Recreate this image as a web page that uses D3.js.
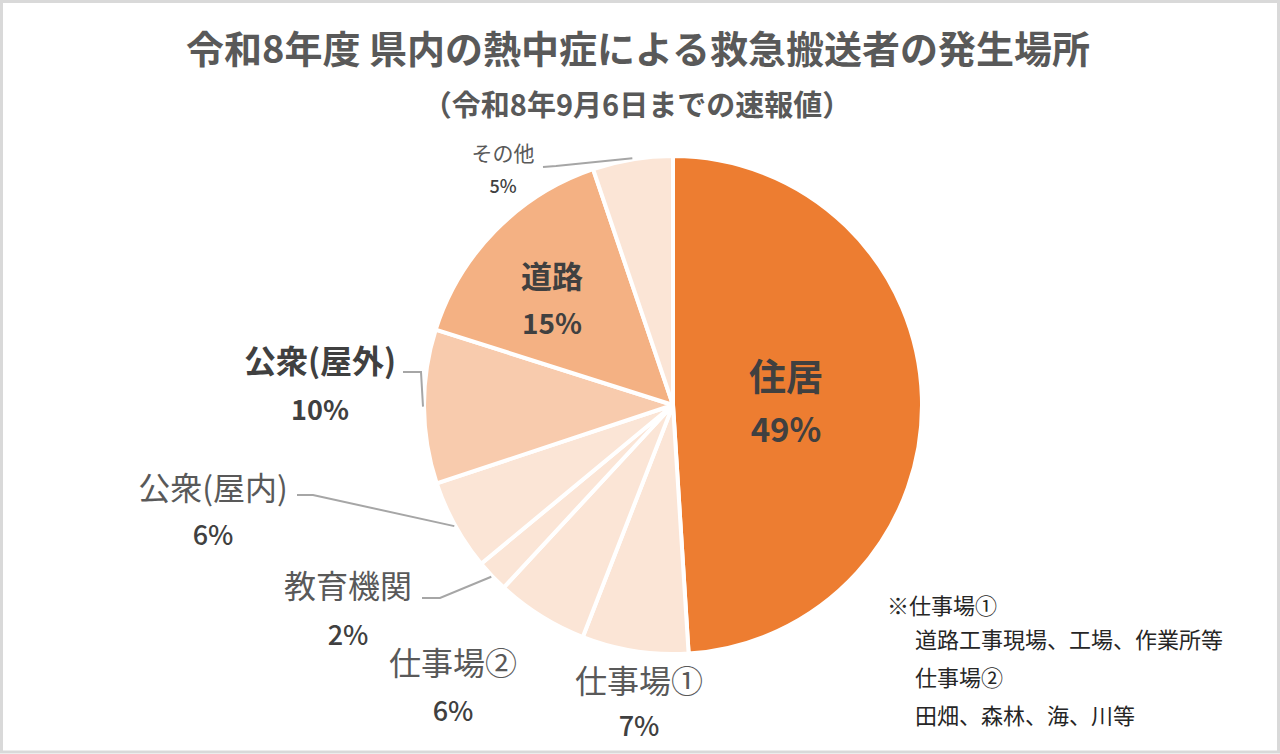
<!DOCTYPE html>
<html>
<head>
<meta charset="utf-8">
<script src="https://cdn.jsdelivr.net/npm/d3@7"></script>
<style>
  html, body { margin: 0; padding: 0; background: #fff; }
  svg { display: block; font-family: "Noto Sans CJK JP", "Noto Sans", sans-serif; }
</style>
</head>
<body>
<svg id="chart"></svg>
<script>
// Data (share in %, read clockwise from 12 o'clock)
const categories = ["住居", "仕事場①", "仕事場②", "教育機関", "公衆(屋内)", "公衆(屋外)", "道路", "その他"];
const shares = [49.0, 6.9, 6.0, 2.1, 5.9, 10.0, 14.9, 5.2];
const noteLines = ["※仕事場①", "道路工事現場、工場、作業所等", "仕事場②", "田畑、森林、海、川等"];
const title = "令和8年度 県内の熱中症による救急搬送者の発生場所";
const subtitle = "（令和8年9月6日までの速報値）";

const width = 1280;
const height = 754;
const cx = 673;
const cy = 405;
const radius = 249;

const colors = ["#ED7D31", "#FBE5D6", "#FBE5D6", "#FBE5D6", "#FBE5D6", "#F8CBAD", "#F4B183", "#FBE5D6"];

// label layout: centre x, baseline of name / percent, sizes, weight, leader start
const labelLayout = [
  { x: 786, y1: 391, y2: 442, s1: 37, s2: 33, bold: true },
  { x: 639, y1: 693, y2: 736, s1: 32, s2: 27, bold: false },
  { x: 453, y1: 675, y2: 721, s1: 32, s2: 27, bold: false },
  { x: 348, y1: 598, y2: 645, s1: 32, s2: 27, bold: false, leader: [[422, 598], [440, 598]] },
  { x: 213, y1: 500, y2: 545, s1: 32, s2: 27, bold: false, leader: [[297, 495], [313, 495]] },
  { x: 320, y1: 373, y2: 420, s1: 32, s2: 27, bold: true, leader: [[403, 372], [421, 372]] },
  { x: 552, y1: 288, y2: 334, s1: 31, s2: 28, bold: true },
  { x: 503, y1: 161, y2: 193, s1: 21, s2: 18, bold: false, leader: [[543, 167], [556, 166]] }
];

const svg = d3.select("#chart")
  .attr("width", width)
  .attr("height", height);

// frame
svg.append("rect")
  .attr("x", 1.5)
  .attr("y", 1.5)
  .attr("width", width - 3)
  .attr("height", height - 3.5)
  .attr("fill", "#fff")
  .attr("stroke", "#d9d9d9")
  .attr("stroke-width", 3);

// titles
svg.append("text")
  .attr("x", 638)
  .attr("y", 63)
  .attr("text-anchor", "middle")
  .attr("font-size", 38)
  .attr("font-weight", "bold")
  .attr("fill", "#595959")
  .text(title);

svg.append("text")
  .attr("x", 637)
  .attr("y", 116)
  .attr("text-anchor", "middle")
  .attr("font-size", 29)
  .attr("font-weight", "bold")
  .attr("fill", "#595959")
  .text(subtitle);

const data = categories.map((c, i) => ({ name: c, value: shares[i], i }));

const pie = d3.pie()
  .sort(null)
  .value(d => d.value);

const arcs = pie(data);

const arc = d3.arc()
  .innerRadius(0)
  .outerRadius(radius);

const rimArc = d3.arc()
  .innerRadius(radius + 1)
  .outerRadius(radius + 1);

const g = svg.append("g")
  .attr("transform", `translate(${cx},${cy})`);

g.selectAll("path.slice")
  .data(arcs)
  .join("path")
  .attr("class", "slice")
  .attr("d", arc)
  .attr("fill", d => colors[d.data.i])
  .attr("stroke", "#fff")
  .attr("stroke-width", 4)
  .attr("stroke-linejoin", "round");

// leader lines
arcs.forEach(d => {
  const lay = labelLayout[d.data.i];
  if (!lay.leader) return;
  const [ex, ey] = rimArc.centroid(d);
  const pts = lay.leader.concat([[cx + ex, cy + ey]]);
  svg.append("path")
    .attr("d", d3.line()(pts))
    .attr("fill", "none")
    .attr("stroke", "#a6a6a6")
    .attr("stroke-width", 2);
});

// labels
arcs.forEach(d => {
  const lay = labelLayout[d.data.i];
  const pct = Math.round(d.data.value) + "%";
  svg.append("text")
    .attr("x", lay.x)
    .attr("y", lay.y1)
    .attr("text-anchor", "middle")
    .attr("font-size", lay.s1)
    .attr("font-weight", lay.bold ? "bold" : "normal")
    .attr("fill", lay.bold ? "#404040" : "#595959")
    .text(d.data.name);
  svg.append("text")
    .attr("x", lay.x)
    .attr("y", lay.y2)
    .attr("text-anchor", "middle")
    .attr("font-size", lay.s2)
    .attr("font-weight", lay.bold ? "bold" : "500")
    .attr("fill", "#404040")
    .text(pct);
});

// note
const noteX = [887, 915, 915, 915];
const noteY = [614, 648, 686, 724];
svg.append("g")
  .selectAll("text")
  .data(noteLines)
  .join("text")
  .attr("x", (d, i) => noteX[i])
  .attr("y", (d, i) => noteY[i])
  .attr("font-size", 22)
  .attr("fill", "#262626")
  .text(d => d);
</script>
</body>
</html>
